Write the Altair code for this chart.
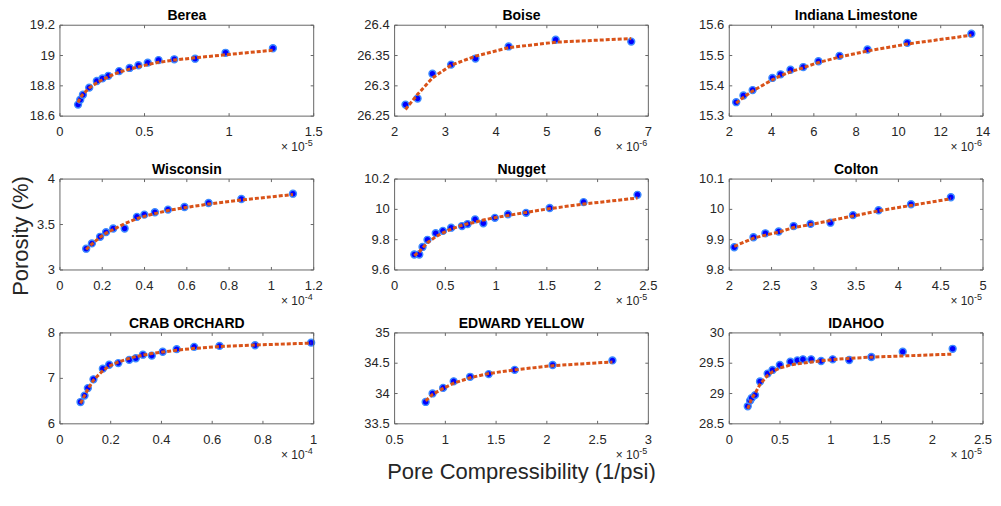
import altair as alt
import pandas as pd

W, H = 254, 91
FONT = "Liberation Sans"
TXT = "#262626"
BOX = "#666666"
TICK = 3

titles = ["Berea", "Boise", "Indiana Limestone", "Wisconsin", "Nugget", "Colton",
          "CRAB ORCHARD", "EDWARD YELLOW", "IDAHOO"]
exponents = ["-5", "-6", "-6", "-4", "-5", "-5", "-4", "-5", "-5"]
y_title = "Porosity (%)"
x_title = "Pore Compressibility (1/psi)"

# x values are mantissas (times 10^exponent), y in %
berea_x = [0.107, 0.120, 0.136, 0.173, 0.218, 0.251, 0.286, 0.350, 0.412, 0.464, 0.519, 0.583, 0.676, 0.799, 0.979, 1.259]
berea_y = [18.676, 18.708, 18.741, 18.788, 18.832, 18.849, 18.866, 18.897, 18.918, 18.936, 18.953, 18.970, 18.975, 18.979, 19.018, 19.048]
berea_fit = [18.69, 18.72, 18.745, 18.785, 18.82, 18.84, 18.86, 18.89, 18.91, 18.925, 18.94, 18.955, 18.97, 18.985, 19.005, 19.035]

boise_x = [2.214, 2.453, 2.745, 3.114, 3.593, 4.247, 5.174, 6.663]
boise_y = [26.269, 26.279, 26.320, 26.335, 26.345, 26.365, 26.376, 26.373]
boise_fit = [26.261, 26.286, 26.313, 26.334, 26.349, 26.363, 26.372, 26.378]

indiana_x = [2.327, 2.669, 3.105, 4.039, 4.428, 4.895, 5.502, 6.218, 7.214, 8.537, 10.420, 13.45]
indiana_y = [15.346, 15.368, 15.386, 15.426, 15.438, 15.453, 15.462, 15.481, 15.499, 15.520, 15.542, 15.572]
indiana_fit = [15.343, 15.362, 15.383, 15.420, 15.433, 15.446, 15.460, 15.477, 15.495, 15.515, 15.538, 15.567]

wisc_x = [0.124, 0.151, 0.190, 0.218, 0.252, 0.306, 0.364, 0.399, 0.449, 0.511, 0.589, 0.703, 0.858, 1.102]
wisc_y = [3.234, 3.292, 3.365, 3.416, 3.456, 3.456, 3.584, 3.609, 3.635, 3.664, 3.693, 3.737, 3.781, 3.839]
wisc_fit = [3.225, 3.285, 3.36, 3.405, 3.445, 3.51, 3.565, 3.59, 3.62, 3.655, 3.685, 3.725, 3.77, 3.83]

nugget_x = [0.194, 0.243, 0.275, 0.324, 0.405, 0.476, 0.557, 0.664, 0.719, 0.793, 0.874, 0.988, 1.117, 1.295, 1.528, 1.862, 2.393]
nugget_y = [9.702, 9.702, 9.752, 9.799, 9.843, 9.858, 9.879, 9.890, 9.903, 9.934, 9.908, 9.944, 9.968, 9.977, 10.009, 10.048, 10.096]
nugget_fit = [9.695, 9.72, 9.745, 9.78, 9.82, 9.845, 9.87, 9.895, 9.905, 9.915, 9.93, 9.945, 9.96, 9.98, 10.005, 10.035, 10.075]

colton_x = [2.059, 2.286, 2.427, 2.584, 2.761, 2.961, 3.196, 3.463, 3.765, 4.149, 4.620]
colton_y = [9.875, 9.908, 9.921, 9.927, 9.945, 9.952, 9.956, 9.981, 9.997, 10.017, 10.040]
colton_fit = [9.878, 9.905, 9.915, 9.925, 9.94, 9.95, 9.963, 9.978, 9.995, 10.013, 10.035]

crab_x = [0.081, 0.097, 0.110, 0.132, 0.169, 0.194, 0.230, 0.273, 0.299, 0.327, 0.362, 0.405, 0.460, 0.529, 0.629, 0.769, 0.990]
crab_y = [6.479, 6.621, 6.786, 6.979, 7.214, 7.300, 7.336, 7.407, 7.443, 7.521, 7.500, 7.586, 7.643, 7.693, 7.714, 7.729, 7.786]
crab_fit = [6.45, 6.62, 6.76, 6.96, 7.17, 7.27, 7.36, 7.44, 7.48, 7.51, 7.545, 7.58, 7.62, 7.66, 7.70, 7.735, 7.775]

edward_x = [0.806, 0.874, 0.978, 1.082, 1.244, 1.427, 1.683, 2.057, 2.646]
edward_y = [33.861, 34.001, 34.093, 34.201, 34.276, 34.320, 34.390, 34.471, 34.546]
edward_fit = [33.88, 33.985, 34.085, 34.17, 34.26, 34.33, 34.39, 34.46, 34.52]

idahoo_x = [0.182, 0.205, 0.221, 0.254, 0.303, 0.378, 0.426, 0.498, 0.602, 0.671, 0.726, 0.807, 0.905, 1.019, 1.182, 1.400, 1.709, 2.201]
idahoo_y = [28.789, 28.882, 28.925, 28.974, 29.198, 29.329, 29.389, 29.471, 29.525, 29.547, 29.564, 29.564, 29.536, 29.564, 29.553, 29.602, 29.689, 29.738]
idahoo_fit = [28.75, 28.85, 28.92, 29.0, 29.15, 29.3, 29.36, 29.42, 29.47, 29.49, 29.5, 29.52, 29.54, 29.56, 29.58, 29.6, 29.62, 29.65]

x_domains = [[0, 1.5], [2, 7], [2, 14], [0, 1.2], [0, 2.5], [2, 5], [0, 1], [0.5, 3], [0, 2.5]]
x_ticks = [[0, 0.5, 1, 1.5], [2, 3, 4, 5, 6, 7], [2, 4, 6, 8, 10, 12, 14],
           [0, 0.2, 0.4, 0.6, 0.8, 1, 1.2], [0, 0.5, 1, 1.5, 2, 2.5], [2, 2.5, 3, 3.5, 4, 4.5, 5],
           [0, 0.2, 0.4, 0.6, 0.8, 1], [0.5, 1, 1.5, 2, 2.5, 3], [0, 0.5, 1, 1.5, 2, 2.5]]
y_domains = [[18.6, 19.2], [26.25, 26.4], [15.3, 15.6], [3, 4], [9.6, 10.2], [9.8, 10.1],
             [6, 8], [33.5, 35], [28.5, 30]]
y_ticks = [[18.6, 18.8, 19, 19.2], [26.25, 26.3, 26.35, 26.4], [15.3, 15.4, 15.5, 15.6],
           [3, 3.5, 4], [9.6, 9.8, 10, 10.2], [9.8, 9.9, 10, 10.1],
           [6, 7, 8], [33.5, 34, 34.5, 35], [28.5, 29, 29.5, 30]]

series = [(berea_x, berea_y, berea_fit), (boise_x, boise_y, boise_fit),
          (indiana_x, indiana_y, indiana_fit), (wisc_x, wisc_y, wisc_fit),
          (nugget_x, nugget_y, nugget_fit), (colton_x, colton_y, colton_fit),
          (crab_x, crab_y, crab_fit), (edward_x, edward_y, edward_fit),
          (idahoo_x, idahoo_y, idahoo_fit)]


def panel(i):
    xs, ys, fs = series[i]
    df = pd.DataFrame({"x": xs, "y": ys, "fit": fs})
    xt = pd.DataFrame({"t": x_ticks[i]})
    yt = pd.DataFrame({"t": y_ticks[i]})
    xsc = alt.Scale(domain=x_domains[i], nice=False, zero=False)
    ysc = alt.Scale(domain=y_domains[i], nice=False, zero=False)
    one = pd.DataFrame({"title": [titles[i]], "base": ["× 10"], "pw": [exponents[i]],
                        "yt": [y_title], "xt": [x_title]})

    X = lambda f: alt.X(f, scale=xsc, axis=None)
    Y = lambda f: alt.Y(f, scale=ysc, axis=None)

    pts = alt.Chart(df).mark_circle(size=48, color="#0000FF", opacity=1,
                                    stroke="#3d8bff", strokeWidth=1.4).encode(
        x=X("x:Q"), y=Y("y:Q"))
    line = alt.Chart(df).mark_line(color="#D95319", strokeWidth=3, strokeDash=[4, 2]).encode(
        x=X("x:Q"), y=Y("fit:Q"))

    box = alt.Chart(one).mark_rect(filled=False, stroke=BOX, strokeWidth=1, fill=None).encode(
        x=alt.value(0), x2=alt.value(W), y=alt.value(0), y2=alt.value(H))

    rule_style = dict(color=BOX, strokeWidth=1)
    tb = alt.Chart(xt).mark_rule(**rule_style).encode(
        x=X("t:Q"), y=alt.value(H), y2=alt.value(H - TICK))
    tt = alt.Chart(xt).mark_rule(**rule_style).encode(
        x=X("t:Q"), y=alt.value(0), y2=alt.value(TICK))
    tl = alt.Chart(yt).mark_rule(**rule_style).encode(
        y=Y("t:Q"), x=alt.value(0), x2=alt.value(TICK))
    tr = alt.Chart(yt).mark_rule(**rule_style).encode(
        y=Y("t:Q"), x=alt.value(W), x2=alt.value(W - TICK))

    ttl = alt.Chart(one).mark_text(align="center", baseline="alphabetic", fontSize=14,
                                   fontWeight="bold", font=FONT, color="#000000").encode(
        x=alt.value(W / 2), y=alt.value(-5), text="title:N")
    base = alt.Chart(one).mark_text(align="right", baseline="alphabetic", fontSize=12,
                                    font=FONT, color=TXT).encode(
        x=alt.value(W - 9), y=alt.value(H + 35), text="base:N")
    pw = alt.Chart(one).mark_text(align="left", baseline="alphabetic", fontSize=9,
                                  font=FONT, color=TXT).encode(
        x=alt.value(W - 9), y=alt.value(H + 30), text="pw:N")

    xl = alt.Chart(xt).mark_text(align="center", baseline="top", fontSize=13, font=FONT,
                                 color=TXT).encode(
        x=X("t:Q"), y=alt.value(H + 10), text=alt.Text("t:Q", format=".3~f"))
    yl = alt.Chart(yt).mark_text(align="right", baseline="middle", fontSize=13, font=FONT,
                                 color=TXT).encode(
        y=Y("t:Q"), x=alt.value(-5), text=alt.Text("t:Q", format=".3~f"))

    layers = [pts, line, box, tb, tt, tl, tr, ttl, base, pw, xl, yl]
    if i == 0:
        # white 1px corner anchor: fixes the chart origin on a half pixel so lines stay crisp
        layers.append(alt.Chart(one).mark_rect(fill="white", opacity=1, strokeWidth=0).encode(
            x=alt.value(-51.5), x2=alt.value(-50.5), y=alt.value(-16.5), y2=alt.value(-15.5)))
    if i == 3:
        layers.append(alt.Chart(one).mark_text(align="center", baseline="alphabetic", angle=270,
                                               fontSize=22, font=FONT, color=TXT).encode(
            x=alt.value(-32), y=alt.value(57), text="yt:N"))
    if i == 7:
        layers.append(alt.Chart(one).mark_text(align="center", baseline="alphabetic",
                                               fontSize=22, font=FONT, color=TXT).encode(
            x=alt.value(W / 2), y=alt.value(H + 55), text="xt:N"))

    return alt.layer(*layers).properties(width=W, height=H)


chart = alt.concat(*[panel(i) for i in range(9)], columns=3,
                   spacing={"row": 63, "column": 81}, bounds="flush").properties(
    padding={"left": 0, "top": 0, "right": 0, "bottom": 0},
    background="white",
).configure_view(
    stroke=None
)

chart.save("out.html", embed_options={"renderer": "svg", "actions": False})
